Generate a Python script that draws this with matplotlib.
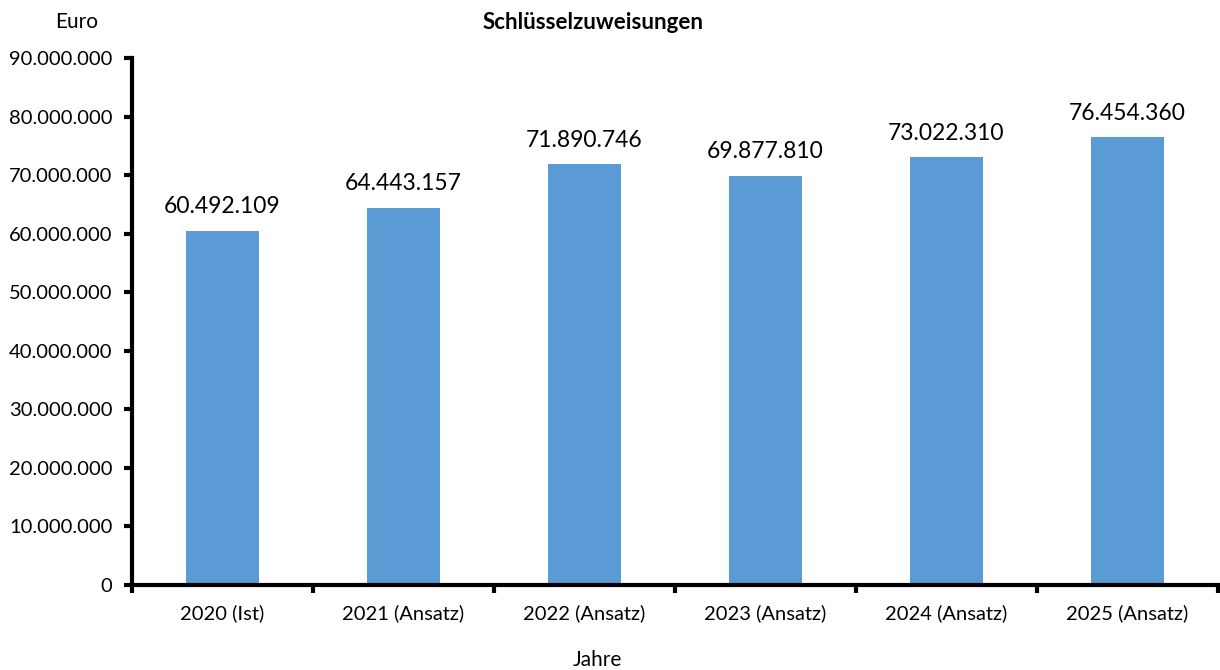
import numpy as np
import matplotlib.pyplot as plt

categories = ['2020 (Ist)', '2021 (Ansatz)', '2022 (Ansatz)', '2023 (Ansatz)',
              '2024 (Ansatz)', '2025 (Ansatz)']
values = [60492109, 64443157, 71890746, 69877810, 73022310, 76454360]
yticks = np.arange(0, 90000001, 10000000)


def fmt_de(v):
    return f'{int(v):,}'.replace(',', '.')


plt.rcParams['font.family'] = ['Lato', 'DejaVu Sans']

fig = plt.figure(figsize=(12.2, 6.7), dpi=100)
ax = fig.add_axes([0.1082, 0.1269, 0.890, 0.7865])

x = np.arange(len(categories))
ax.bar(x, values, width=0.4, color='#5B9BD5')

for xi, v in zip(x, values):
    ax.text(xi, v + 2300000, fmt_de(v), ha='center', va='bottom', fontsize=16.5)

ax.set_xlim(-0.5, len(categories) - 0.5)
ax.set_ylim(0, 90000000)
ax.set_yticks(yticks)
ax.set_yticklabels([fmt_de(t) for t in yticks], fontsize=14.5)

ax.set_xticks(x)
ax.set_xticklabels(categories, fontsize=14.5)
ax.tick_params(axis='x', which='major', length=0, pad=14)
ax.set_xticks(np.arange(-0.5, len(categories)), minor=True)
ax.tick_params(axis='x', which='minor', length=6, width=3, direction='out')
ax.tick_params(axis='y', length=6, width=3, direction='out', pad=8)

for side in ['top', 'right']:
    ax.spines[side].set_visible(False)
for side in ['left', 'bottom']:
    ax.spines[side].set_linewidth(3)

fig.text(0.063, 0.967, 'Euro', ha='center', va='center', fontsize=15)
fig.text(0.486, 0.967, 'Schlüsselzuweisungen', ha='center', va='center',
         fontsize=16, fontweight='bold')
fig.text(0.490, 0.015, 'Jahre', ha='center', va='center', fontsize=15)

fig.savefig('out.png', dpi=100)
